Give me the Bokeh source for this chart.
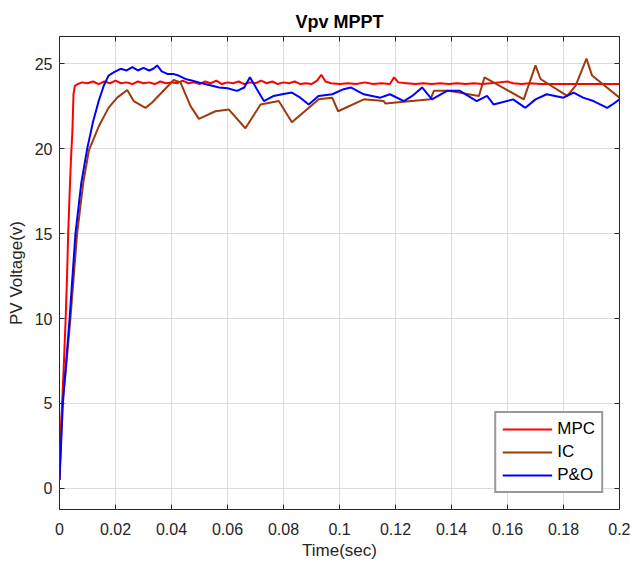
from bokeh.plotting import figure
from bokeh.models import Range1d, LinearAxis, FixedTicker, Legend, LegendItem
from bokeh.embed import file_html
from bokeh.resources import INLINE

# ---- data ----
mpc_t = [0, 0.0005, 0.001, 0.0016, 0.0022, 0.0027, 0.0031, 0.0036, 0.0041, 0.0046, 0.005, 0.0055,
         0.0065, 0.008, 0.01, 0.012, 0.014, 0.016, 0.018, 0.02, 0.022, 0.024, 0.026, 0.028, 0.03,
         0.032, 0.034, 0.036, 0.038, 0.04, 0.042, 0.044, 0.046, 0.048, 0.05, 0.052, 0.054, 0.056,
         0.058, 0.06, 0.062, 0.064, 0.066, 0.068, 0.07, 0.072, 0.074, 0.076, 0.078, 0.08, 0.082,
         0.084, 0.086, 0.088, 0.09, 0.092, 0.0935, 0.095, 0.097, 0.1, 0.103, 0.106, 0.109, 0.112,
         0.115, 0.118, 0.1195, 0.121, 0.124, 0.127, 0.13, 0.133, 0.136, 0.139, 0.142, 0.145, 0.148,
         0.151, 0.154, 0.157, 0.16, 0.162, 0.165, 0.168, 0.172, 0.18, 0.19, 0.2]
mpc_v = [0.5, 3.5, 5.2, 7.5, 10.0, 12.5, 15.0, 17.3, 19.4, 21.0, 23.2, 23.7,
         23.8, 23.9, 23.85, 23.95, 23.8, 23.95, 23.85, 24.0, 23.85, 23.9, 23.8, 23.95, 23.85,
         23.9, 23.8, 23.95, 23.85, 23.9, 23.85, 24.0, 23.85, 23.9, 23.8, 23.95, 23.85, 24.0,
         23.8, 23.9, 23.85, 23.95, 23.8, 23.9, 23.85, 24.0, 23.85, 23.95, 23.8, 23.9, 23.85,
         23.95, 23.8, 23.85, 23.8, 24.0, 24.35, 23.95, 23.85, 23.8, 23.85, 23.8, 23.9, 23.8,
         23.85, 23.8, 24.2, 23.9, 23.85, 23.8, 23.85, 23.8, 23.85, 23.8, 23.85, 23.8, 23.85,
         23.8, 23.85, 23.9, 23.95, 23.85, 23.8, 23.85, 23.8, 23.8, 23.8, 23.8]

ic_t = [0, 0.001, 0.002, 0.0039, 0.0063, 0.0085, 0.0105, 0.014, 0.0175, 0.0206, 0.0242, 0.0265,
        0.0307, 0.033, 0.0408, 0.0432, 0.0468, 0.0498, 0.0557, 0.0605, 0.0664, 0.0718, 0.0783,
        0.083, 0.0926, 0.0974, 0.0995, 0.1087, 0.1158, 0.1164, 0.1325, 0.1337, 0.139, 0.1498,
        0.1518, 0.1658, 0.170, 0.1718, 0.1813, 0.1843, 0.1882, 0.1902, 0.2]
ic_v = [0.5, 5.0, 6.5, 10.0, 15.0, 18.0, 19.9, 21.3, 22.4, 23.0, 23.45, 22.8,
        22.4, 22.7, 24.04, 23.9, 22.5, 21.75, 22.2, 22.3, 21.2, 22.6, 22.8,
        21.55, 22.9, 23.0, 22.2, 22.9, 22.8, 22.65, 22.9, 23.4, 23.4, 23.1,
        24.2, 22.9, 24.9, 24.1, 23.1, 23.7, 25.3, 24.3, 23.0]

po_t = [0, 0.0012, 0.0024, 0.0036, 0.0057, 0.0078, 0.0099, 0.012, 0.014, 0.0158, 0.0175, 0.0195,
        0.0218, 0.024, 0.026, 0.028, 0.030, 0.032, 0.0335, 0.0349, 0.0365, 0.0385, 0.0405,
        0.0425, 0.045, 0.0475, 0.0497, 0.052, 0.0545, 0.057, 0.060, 0.0634, 0.066, 0.068, 0.0705,
        0.073, 0.0765, 0.0795, 0.083, 0.086, 0.089, 0.0925, 0.0974, 0.1015, 0.104, 0.1087,
        0.1146, 0.118, 0.123, 0.126, 0.1295, 0.133, 0.1384, 0.143, 0.149, 0.1527, 0.155, 0.162,
        0.1664, 0.170, 0.174, 0.18, 0.1836, 0.187, 0.1907, 0.1956, 0.1975, 0.2]
po_v = [0.5, 5.0, 7.5, 10.0, 15.0, 18.0, 20.0, 21.6, 22.8, 23.7, 24.3, 24.5,
        24.7, 24.6, 24.8, 24.6, 24.75, 24.6, 24.7, 24.9, 24.55, 24.4, 24.4,
        24.3, 24.1, 24.0, 23.9, 23.8, 23.7, 23.6, 23.55, 23.4, 23.6, 24.2, 23.5,
        22.8, 23.1, 23.2, 23.3, 23.0, 22.6, 23.1, 23.2, 23.5, 23.6, 23.2,
        23.0, 23.2, 22.8, 23.1, 23.6, 22.9, 23.4, 23.4, 22.8, 23.1, 22.6, 22.9,
        22.4, 22.9, 23.2, 23.0, 23.3, 23.0, 22.8, 22.4, 22.6, 22.9]

x_ticks = [0, 0.02, 0.04, 0.06, 0.08, 0.1, 0.12, 0.14, 0.16, 0.18, 0.2]
x_labels = ["0", "0.02", "0.04", "0.06", "0.08", "0.1", "0.12", "0.14", "0.16", "0.18", "0.2"]
y_ticks = [0, 5, 10, 15, 20, 25]

FONT = "Liberation Sans"
TXT = "#262626"

p = figure(width=630, height=563, output_backend="svg", toolbar_location=None,
           x_range=Range1d(0, 0.2), y_range=Range1d(-1.24, 26.6),
           min_border_left=59, min_border_right=11, min_border_top=36, min_border_bottom=54,
           title="Vpv MPPT")
p.title.align = "center"
p.title.text_font = FONT
p.title.text_font_size = "18px"
p.title.text_font_style = "bold"
p.title.text_color = "#000000"

p.outline_line_color = TXT
p.outline_line_width = 1
p.background_fill_color = "white"
p.border_fill_color = "white"

p.xaxis.ticker = FixedTicker(ticks=x_ticks)
p.xaxis.major_label_overrides = {t: l for t, l in zip(x_ticks, x_labels)}
p.yaxis.ticker = FixedTicker(ticks=y_ticks)
for ax in (p.xaxis[0], p.yaxis[0]):
    ax.major_tick_in = 5
    ax.major_tick_out = 0
    ax.minor_tick_line_color = None
    ax.axis_line_color = None
    ax.major_tick_line_color = TXT
    ax.major_label_text_font = FONT
    ax.major_label_text_font_size = "16px"
    ax.major_label_text_color = TXT
    ax.axis_label_text_font = FONT
    ax.axis_label_text_font_size = "17px"
    ax.axis_label_text_font_style = "normal"
    ax.axis_label_text_color = TXT
p.xaxis.major_label_standoff = 13
p.yaxis.major_label_standoff = 7
p.xaxis.axis_label = "Time(sec)"
p.yaxis.axis_label = "PV Voltage(v)"
p.xaxis.axis_label_standoff = 3
p.yaxis.axis_label_standoff = 6

top = LinearAxis(ticker=FixedTicker(ticks=x_ticks),
                 major_label_overrides={t: "" for t in x_ticks},
                 major_tick_in=5, major_tick_out=0, minor_tick_line_color=None,
                 axis_line_color=None, major_tick_line_color=TXT)
right = LinearAxis(ticker=FixedTicker(ticks=y_ticks),
                   major_label_overrides={t: "" for t in y_ticks},
                   major_tick_in=5, major_tick_out=0, minor_tick_line_color=None,
                   axis_line_color=None, major_tick_line_color=TXT)
p.add_layout(top, "above")
p.add_layout(right, "right")

p.grid.grid_line_color = "#dcdcdc"
p.grid.grid_line_width = 1
p.xgrid.ticker = FixedTicker(ticks=x_ticks)
p.ygrid.ticker = FixedTicker(ticks=y_ticks)

r_mpc = p.line(mpc_t, mpc_v, line_color="#ff0000", line_width=2)
r_ic = p.line(ic_t, ic_v, line_color="#9e3a0c", line_width=2)
r_po = p.line(po_t, po_v, line_color="#0000ff", line_width=2)

legend = Legend(items=[LegendItem(label="MPC", renderers=[r_mpc]),
                       LegendItem(label="IC", renderers=[r_ic]),
                       LegendItem(label="P&O", renderers=[r_po])],
                location="bottom_right", margin=16, padding=6, spacing=3,
                glyph_width=50, label_standoff=5,
                label_text_font=FONT, label_text_font_size="17px", label_text_color="#000000",
                border_line_color="#333333", border_line_width=2,
                background_fill_alpha=1.0)
p.add_layout(legend, "center")

open("out.html", "w").write(file_html(p, INLINE))
